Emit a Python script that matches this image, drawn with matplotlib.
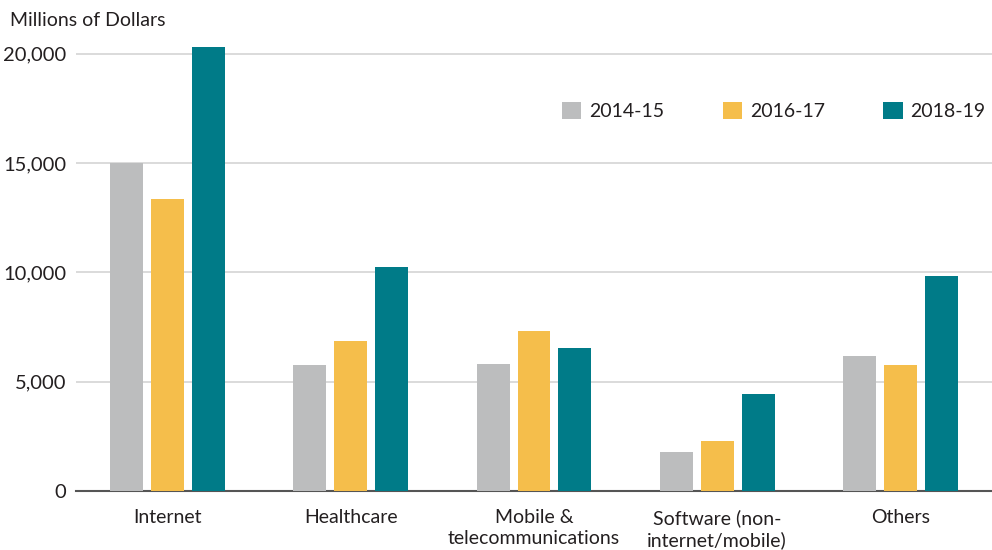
import numpy as np
import matplotlib
matplotlib.use("Agg")
import matplotlib.pyplot as plt
from matplotlib.patches import Patch

# Data
categories = ["Internet", "Healthcare", "Mobile &\ntelecommunications",
              "Software (non-\ninternet/mobile)", "Others"]
years = ["2014-15", "2016-17", "2018-19"]
vals_2014 = [15000, 5750, 5830, 1800, 6200]
vals_2016 = [13350, 6850, 7320, 2280, 5750]
vals_2018 = [20300, 10230, 6560, 4450, 9860]
yticks = [0, 5000, 10000, 15000, 20000]

colors = ["#bcbdbe", "#f5be4b", "#007b88"]
txt = "#231f20"

plt.rcParams['font.family'] = ['Lato', 'DejaVu Sans']

fig = plt.figure(figsize=(9.92, 5.5), dpi=100)
ax = fig.add_axes([0.0766, 0.107, 0.9234, 0.813])

x = np.arange(len(categories))
w = 0.18
off = 0.223
for i, (vals, c) in enumerate(zip([vals_2014, vals_2016, vals_2018], colors)):
    ax.bar(x + (i - 1) * off, vals, width=w, color=c, zorder=3)

ax.set_xlim(-0.5, len(categories) - 0.5)
ax.set_ylim(0, 20450)
ax.set_yticks(yticks)
ax.set_yticklabels([f"{v:,}" for v in yticks], fontsize=14.5, color=txt)
ax.set_xticks(x)
ax.set_xticklabels(categories, fontsize=14, color=txt, linespacing=1.3, va="top")

ax.grid(axis="y", color="#d4d4d4", linewidth=1.2, zorder=0)
for s in ["top", "right", "left"]:
    ax.spines[s].set_visible(False)
ax.spines["bottom"].set_color("#555555")
ax.spines["bottom"].set_linewidth(1.5)
ax.tick_params(axis="both", length=0)
ax.tick_params(axis="y", pad=7)
ax.tick_params(axis="x", pad=13)

fig.text(0.01, 0.963, "Millions of Dollars", fontsize=14, color=txt, va="center", ha="left")

handles = [Patch(facecolor=c, label=y) for c, y in zip(colors, years)]
leg = ax.legend(handles=handles, ncol=3, loc="center right", bbox_to_anchor=(1.012, 0.85),
                frameon=False, fontsize=14, handlelength=1.0, handleheight=1.0,
                handletextpad=0.4, columnspacing=3.0)
for t in leg.get_texts():
    t.set_color(txt)

fig.savefig("out.png", dpi=100)
